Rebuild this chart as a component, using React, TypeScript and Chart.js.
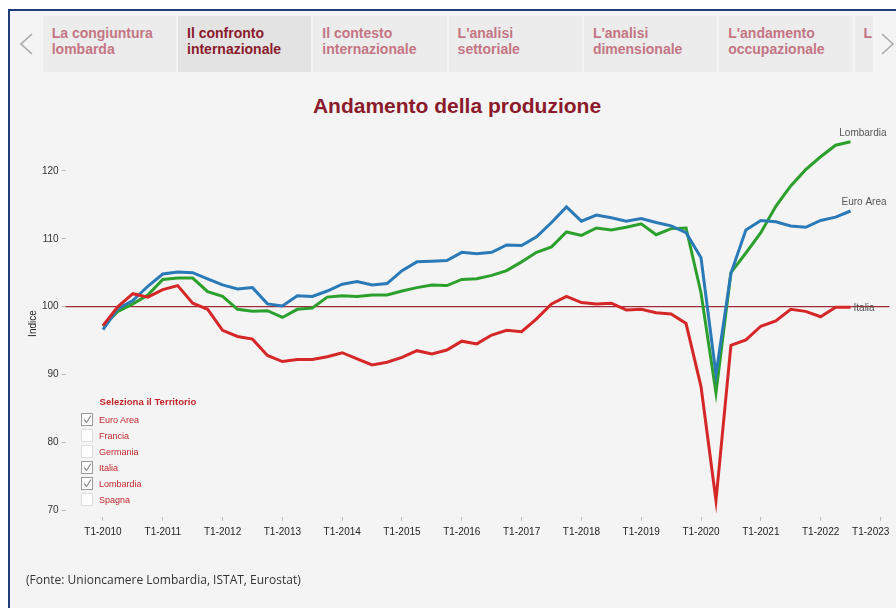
import React, { useEffect, useRef } from "react";
import { Chart, registerables } from "chart.js";

Chart.register(...registerables);

// ---- data ----
const xTickLabels = [
  "T1-2010", "T1-2011", "T1-2012", "T1-2013", "T1-2014", "T1-2015", "T1-2016",
  "T1-2017", "T1-2018", "T1-2019", "T1-2020", "T1-2021", "T1-2022", "T1-2023",
];
const yTicks = [70, 80, 90, 100, 110, 120];
const referenceValue = 100;

const euroArea = [
  96.6, 99.7, 100.9, 103.0, 104.8, 105.1, 105.0, 104.1, 103.2, 102.6, 102.8, 100.4, 100.1,
  101.6, 101.5, 102.3, 103.3, 103.7, 103.2, 103.4, 105.3, 106.6, 106.7, 106.8, 108.0, 107.8,
  108.0, 109.1, 109.0, 110.3, 112.4, 114.7, 112.6, 113.5, 113.1, 112.6, 113.0, 112.4, 111.9,
  110.9, 107.2, 90.0, 104.9, 111.3, 112.7, 112.5, 111.9, 111.7, 112.7, 113.2, 114.1,
];
const lombardia = [
  97.1, 99.3, 100.4, 101.7, 104.0, 104.2, 104.2, 102.2, 101.5, 99.6, 99.3, 99.4, 98.4,
  99.6, 99.8, 101.4, 101.6, 101.5, 101.7, 101.7, 102.3, 102.8, 103.2, 103.1, 104.0, 104.1,
  104.6, 105.3, 106.6, 108.0, 108.8, 111.0, 110.5, 111.6, 111.3, 111.7, 112.2, 110.6, 111.5,
  111.6, 102.0, 87.3, 105.0, 107.9, 110.9, 114.8, 117.8, 120.2, 122.1, 123.8, 124.3,
];
const italia = [
  97.2, 100.0, 101.9, 101.4, 102.5, 103.1, 100.5, 99.6, 96.5, 95.6, 95.2, 92.8, 91.9,
  92.2, 92.2, 92.6, 93.2, 92.3, 91.4, 91.8, 92.5, 93.5, 93.0, 93.6, 94.9, 94.5,
  95.8, 96.5, 96.3, 98.2, 100.4, 101.5, 100.6, 100.4, 100.5, 99.5, 99.6, 99.1, 98.9,
  97.5, 88.2, 71.4, 94.3, 95.1, 97.1, 97.9, 99.6, 99.3, 98.5, 99.9, 99.9,
];

const tabs = [
  ["La congiuntura", "lombarda"],
  ["Il confronto", "internazionale"],
  ["Il contesto", "internazionale"],
  ["L'analisi", "settoriale"],
  ["L'analisi", "dimensionale"],
  ["L'andamento", "occupazionale"],
  ["L", ""],
];
const activeTab = 1;

const territories = ["Euro Area", "Francia", "Germania", "Italia", "Lombardia", "Spagna"];
const checked = ["Euro Area", "Italia", "Lombardia"];

const FONT = "'Liberation Sans', Arial, sans-serif";

const refLinePlugin = {
  id: "refLine",
  beforeDatasetsDraw(chart: any) {
    const { ctx, chartArea, scales } = chart;
    const y = scales.y.getPixelForValue(referenceValue);
    ctx.save();
    ctx.strokeStyle = "#9e2a3a";
    ctx.lineWidth = 1.2;
    ctx.beginPath();
    ctx.moveTo(chartArea.left, y);
    ctx.lineTo(chartArea.right, y);
    ctx.stroke();
    ctx.restore();
  },
};

const endLabelPlugin = {
  id: "endLabels",
  afterDatasetsDraw(chart: any) {
    const { ctx } = chart;
    ctx.save();
    ctx.font = `10px ${FONT}`;
    ctx.fillStyle = "#555";
    chart.data.datasets.forEach((ds: any, i: number) => {
      const meta = chart.getDatasetMeta(i);
      const pt = meta.data[meta.data.length - 1];
      if (!pt) return;
      if (ds.endLabelMode === "right") {
        ctx.textAlign = "left";
        ctx.textBaseline = "middle";
        ctx.fillText(ds.label, pt.x + 3, pt.y + 1);
      } else {
        ctx.textAlign = "right";
        ctx.textBaseline = "middle";
        ctx.fillText(ds.label, pt.x + 36, pt.y - 9);
      }
    });
    ctx.restore();
  },
};

function Chevron({ dir, left }: { dir: "l" | "r"; left: number }) {
  const pts = dir === "l" ? "12,1 1,11 12,21" : "1,1 12,11 1,21";
  return (
    <svg
      width={14}
      height={23}
      style={{ position: "absolute", left, top: 33 }}
    >
      <polyline points={pts} fill="none" stroke="#aaa" strokeWidth={1.6} />
    </svg>
  );
}

export default function App() {
  const canvasRef = useRef<HTMLCanvasElement | null>(null);

  useEffect(() => {
    const canvas = canvasRef.current;
    if (!canvas) return;
    const mk = (arr: number[]) => arr.map((v, i) => ({ x: i, y: v }));
    const chart = new Chart(canvas, {
      type: "line",
      data: {
        datasets: [
          {
            label: "Italia",
            data: mk(italia),
            borderColor: "#d62728",
            borderWidth: 3,
            pointRadius: 0,
            tension: 0,
            endLabelMode: "right",
          } as any,
          {
            label: "Euro Area",
            data: mk(euroArea),
            borderColor: "#2a7ab8",
            borderWidth: 3,
            pointRadius: 0,
            tension: 0,
            endLabelMode: "above",
          } as any,
          {
            label: "Lombardia",
            data: mk(lombardia),
            borderColor: "#2ca02c",
            borderWidth: 3,
            pointRadius: 0,
            tension: 0,
            endLabelMode: "above",
          } as any,
        ],
      },
      options: {
        responsive: false,
        animation: false,
        devicePixelRatio: 1,
        layout: { padding: { left: 0, top: 130.3, right: 6.6, bottom: 0 } },
        plugins: {
          legend: { display: false },
          tooltip: { enabled: false },
        },
        scales: {
          x: {
            type: "linear",
            min: -2.5,
            max: 52.6,
            afterBuildTicks: (s: any) => {
              s.ticks = xTickLabels.map((_, i) => ({ value: i * 4 }));
            },
            afterFit: (s: any) => {
              s.height = 91.2;
              s.paddingLeft = 0;
              s.paddingRight = 0;
            },
            grid: { drawOnChartArea: false, tickLength: 4, color: "#bbb" },
            border: { display: false },
            ticks: {
              autoSkip: false,
              maxRotation: 0,
              padding: 5,
              color: "#222",
              font: { size: 10, family: FONT },
              callback: (v: any) => {
                const idx = Math.round(Number(v) / 4);
                const lab = xTickLabels[idx] ?? "";
                // last label is nudged left so it stays inside the frame
                return idx === xTickLabels.length - 1 ? lab + "\u00a0".repeat(7) : lab;
              },
            },
          },
          y: {
            type: "linear",
            min: 69,
            max: 126,
            afterBuildTicks: (s: any) => {
              s.ticks = yTicks.map((v) => ({ value: v }));
            },
            afterFit: (s: any) => {
              s.width = 65.6;
              s.paddingTop = 0;
              s.paddingBottom = 0;
            },
            grid: { drawOnChartArea: false, tickLength: 4, color: "#bbb" },
            border: { display: false },
            ticks: {
              padding: 3,
              color: "#333",
              font: { size: 10, family: FONT },
            },
            title: {
              display: true,
              text: "Indice",
              color: "#222",
              font: { size: 10, family: FONT },
              padding: { top: 27, bottom: 0 },
            },
          },
        },
      } as any,
      plugins: [refLinePlugin, endLabelPlugin],
    });
    return () => chart.destroy();
  }, []);

  return (
    <div
      style={{
        position: "fixed",
        left: 0,
        top: 0,
        width: 896,
        height: 608,
        background: "#ffffff",
        overflow: "hidden",
        fontFamily: FONT,
      }}
    >
      {/* frame */}
      <div
        style={{
          position: "absolute",
          left: 8,
          top: 9,
          width: 900,
          height: 610,
          background: "#f4f4f4",
          borderLeft: "2px solid #1f3d78",
          borderTop: "2px solid #1f3d78",
        }}
      />
      {/* tabs */}
      <Chevron dir="l" left={20} />
      {tabs.map((t, i) => {
        const left = 42.7 + i * 135.3;
        const isLast = i === tabs.length - 1;
        return (
          <div
            key={i}
            style={{
              position: "absolute",
              left,
              top: 16,
              width: isLast ? 18 : 133.3,
              height: 56,
              background: i === activeTab ? "#e3e3e3" : "#ececec",
              color: i === activeTab ? "#8b1a2b" : "#c47585",
              fontWeight: "bold",
              fontSize: 14,
              lineHeight: "16px",
              paddingTop: 8.5,
              paddingLeft: 9,
              boxSizing: "border-box",
              whiteSpace: "nowrap",
              overflow: "hidden",
            }}
          >
            <div>{t[0]}</div>
            <div>{t[1]}</div>
          </div>
        );
      })}
      <Chevron dir="r" left={881} />
      {/* title */}
      <div
        style={{
          position: "absolute",
          left: 0,
          width: 914,
          top: 95,
          textAlign: "center",
          fontSize: 21,
          lineHeight: "21px",
          fontWeight: "bold",
          color: "#8b1a2b",
        }}
      >
        Andamento della produzione
      </div>
      <canvas
        ref={canvasRef}
        width={896}
        height={608}
        style={{ position: "absolute", left: 0, top: 0, width: 896, height: 608 }}
      />
      {/* territory selector */}
      <div
        style={{
          position: "absolute",
          left: 99.5,
          top: 396,
          fontSize: 9.6,
          lineHeight: "12px",
          fontWeight: "bold",
          color: "#c1272d",
        }}
      >
        Seleziona il Territorio
      </div>
      {territories.map((name, i) => {
        const isChecked = checked.includes(name);
        const cy = 419.7 + i * 16;
        return (
          <React.Fragment key={name}>
            <div
              style={{
                position: "absolute",
                left: 80.7,
                top: cy - 6.3,
                width: 12.5,
                height: 12.5,
                boxSizing: "border-box",
                background: "#ffffff",
                border: `1px solid ${isChecked ? "#9a9a9a" : "#dddddd"}`,
              }}
            >
              {isChecked && (
                <svg width={11} height={11} style={{ position: "absolute", left: 0, top: 0 }}>
                  <polyline points="2,5.5 4.5,8.5 9,1.5" fill="none" stroke="#8a8a8a" strokeWidth={1.2} />
                </svg>
              )}
            </div>
            <div
              style={{
                position: "absolute",
                left: 99,
                top: cy - 6,
                fontSize: 9,
                lineHeight: "12px",
                color: "#c1272d",
              }}
            >
              {name}
            </div>
          </React.Fragment>
        );
      })}
      {/* footer */}
      <div
        style={{
          position: "absolute",
          left: 26,
          top: 572,
          fontFamily: "'Open Sans', sans-serif",
          fontSize: 12,
          lineHeight: "16px",
          color: "#333",
        }}
      >
        (Fonte: Unioncamere Lombardia, ISTAT, Eurostat)
      </div>
    </div>
  );
}
